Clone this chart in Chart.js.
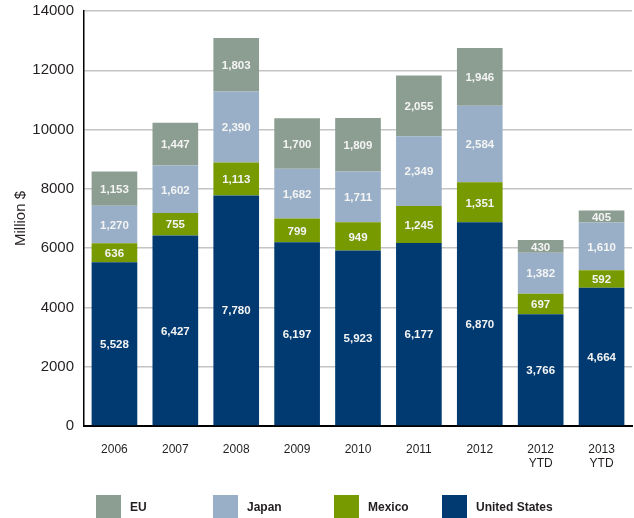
<!DOCTYPE html>
<html>
<head>
<meta charset="utf-8">
<script src="https://cdn.jsdelivr.net/npm/chart.js@4/dist/chart.umd.min.js"></script>
<style>
  html, body { margin: 0; padding: 0; background: #fff; }
  #wrap { position: relative; width: 634px; height: 518px; }
  #chart { position: absolute; left: 0; top: 0; }
  .key { position: absolute; top: 495px; height: 23px; display: flex; align-items: center;
         font: bold 12px "Liberation Sans", Arial, sans-serif; color: #231f20; }
  .key i { display: inline-block; width: 25px; height: 23px; margin-right: 9px; }
</style>
</head>
<body>
<div id="wrap">
  <canvas id="chart" width="634" height="518"></canvas>
  <div class="key" style="left:96px"><i style="background:#8c9e92"></i>EU</div>
  <div class="key" style="left:213px"><i style="background:#98afc7"></i>Japan</div>
  <div class="key" style="left:334px"><i style="background:#789a01"></i>Mexico</div>
  <div class="key" style="left:442px"><i style="background:#003a70"></i>United States</div>
</div>
<script>
// Categories (years) and values per region, million $
const categories = [["2006"], ["2007"], ["2008"], ["2009"], ["2010"], ["2011"], ["2012"], ["2012", "YTD"], ["2013", "YTD"]];
const unitedStates = [5528, 6427, 7780, 6197, 5923, 6177, 6870, 3766, 4664];
const mexico       = [636, 755, 1113, 799, 949, 1245, 1351, 697, 592];
const japan        = [1270, 1602, 2390, 1682, 1711, 2349, 2584, 1382, 1610];
const eu           = [1153, 1447, 1803, 1700, 1809, 2055, 1946, 430, 405];
const yTicks       = [0, 2000, 4000, 6000, 8000, 10000, 12000, 14000];

const FONT = '"Liberation Sans", Arial, sans-serif';

// Writes each segment's value in its centre
const segmentLabels = {
  id: 'segmentLabels',
  afterDatasetsDraw(chart) {
    const ctx = chart.ctx;
    ctx.save();
    ctx.font = 'bold 11.5px ' + FONT;
    ctx.fillStyle = '#f4f4f4';
    ctx.textAlign = 'center';
    ctx.textBaseline = 'middle';
    chart.data.datasets.forEach((ds, i) => {
      chart.getDatasetMeta(i).data.forEach((bar, j) => {
        const c = bar.getCenterPoint();
        ctx.fillText(ds.data[j].toLocaleString('en-US'), c.x, c.y + 1);
      });
    });
    ctx.restore();
  }
};

new Chart(document.getElementById('chart'), {
  type: 'bar',
  data: {
    labels: categories,
    datasets: [
      { label: 'United States', data: unitedStates, backgroundColor: '#003a70' },
      { label: 'Mexico', data: mexico, backgroundColor: '#789a01' },
      { label: 'Japan', data: japan, backgroundColor: '#98afc7' },
      { label: 'EU', data: eu, backgroundColor: '#8c9e92' }
    ]
  },
  options: {
    responsive: false,
    devicePixelRatio: 1,
    animation: false,
    layout: { padding: { top: 11, right: 2, bottom: 0, left: 0 } },
    datasets: { bar: { barPercentage: 0.75, categoryPercentage: 1 } },
    plugins: { legend: { display: false }, tooltip: { enabled: false } },
    scales: {
      x: {
        stacked: true,
        grid: { display: false },
        border: { color: '#000', width: 2 },
        ticks: { color: '#231f20', font: { family: FONT, size: 12 }, padding: 8, maxRotation: 0 },
        afterFit: s => { s.height = 92; }
      },
      y: {
        stacked: true,
        min: yTicks[0],
        max: yTicks[yTicks.length - 1],
        afterBuildTicks: s => { s.ticks = yTicks.map(v => ({ value: v })); },
        grid: { color: '#c4c4c4', lineWidth: 1.5, drawTicks: false },
        border: { color: '#000', width: 1.5 },
        ticks: { color: '#231f20', font: { family: FONT, size: 15 }, padding: 10, callback: v => String(v) },
        title: { display: true, text: 'Million $', color: '#231f20', font: { family: FONT, size: 15 }, padding: { top: 12, bottom: 0 } },
        afterFit: s => { s.width = 84; s.paddingTop = 0; s.paddingBottom = 0; }
      }
    }
  },
  plugins: [segmentLabels]
});
</script>
</body>
</html>
